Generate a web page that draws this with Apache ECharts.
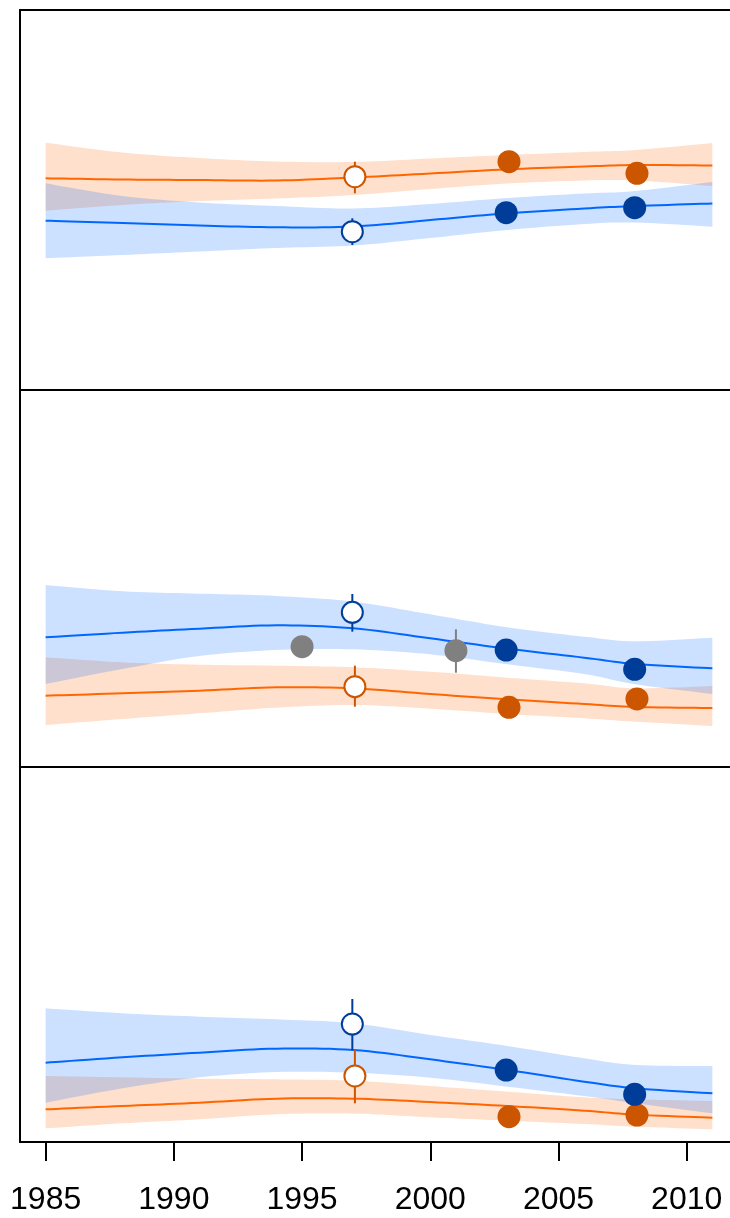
<!DOCTYPE html>
<html><head><meta charset="utf-8">
<script src="https://cdn.jsdelivr.net/npm/echarts@6/dist/echarts.min.js"></script>
<style>html,body{margin:0;padding:0;background:#fff}#c{width:730px;height:1218px}</style>
</head><body><div id="c"></div>
<script>
// ---- data (y in arbitrary units 0-100 per panel) ----
const years = [1985, 1988, 1991, 1994, 1997, 2000, 2003, 2006, 2008, 2011];
const tickYears = [1985, 1990, 1995, 2000, 2005, 2010];

// top panel
const topOrangeFit = [55.65, 55.34, 55.20, 55.07, 55.86, 56.92, 58.02, 58.76, 59.16, 59.03];
const topOrangeHi  = [65.03, 62.45, 61.00, 60.08, 59.95, 60.87, 61.79, 62.58, 63.11, 64.95];
const topOrangeLo  = [47.11, 48.62, 49.67, 50.33, 51.25, 52.83, 54.28, 55.07, 55.07, 53.62];
const topBlueFit   = [44.48, 43.87, 43.21, 42.74, 42.95, 44.66, 46.43, 47.69, 48.35, 49.01];
const topBlueHi    = [54.33, 50.99, 49.27, 48.35, 47.69, 48.88, 50.46, 51.65, 52.30, 54.68];
const topBlueLo    = [34.57, 35.44, 36.36, 37.29, 37.94, 39.92, 42.03, 43.61, 44.00, 42.90];

// middle panel
const midOrangeFit = [18.79, 19.41, 20.12, 21.00, 20.73, 19.23, 17.82, 16.58, 15.78, 15.52];
const midOrangeHi  = [28.96, 27.63, 27.01, 26.75, 26.31, 25.16, 23.56, 22.06, 20.73, 21.35];
const midOrangeLo  = [11.01, 12.60, 14.10, 15.61, 16.31, 15.34, 13.93, 12.78, 11.89, 10.74];
const midBlueFit   = [34.26, 35.50, 36.56, 37.45, 36.65, 34.00, 31.26, 28.87, 27.19, 26.04];
const midBlueHi    = [48.14, 46.46, 45.85, 45.23, 43.72, 40.36, 36.92, 34.44, 33.20, 34.17];
const midBlueLo    = [21.88, 25.86, 29.31, 30.90, 31.08, 29.75, 27.10, 24.54, 21.80, 19.23];

// bottom panel
const botOrangeFit = [8.70, 9.59, 10.47, 11.54, 11.54, 10.65, 9.59, 8.34, 7.28, 6.48];
const botOrangeHi  = [17.58, 17.22, 16.87, 16.69, 16.33, 14.91, 13.40, 11.90, 11.36, 10.92];
const botOrangeLo  = [3.64, 4.97, 6.04, 7.37, 7.55, 6.57, 5.68, 4.79, 4.08, 3.37];
const botBlueFit   = [21.13, 22.55, 23.79, 24.86, 24.50, 22.01, 19.17, 16.07, 14.29, 12.96];
const botBlueHi    = [35.60, 34.27, 33.38, 32.67, 31.60, 28.50, 25.57, 22.28, 20.51, 20.24];
const botBlueLo    = [10.47, 14.29, 17.22, 18.64, 18.46, 17.13, 14.74, 12.25, 10.30, 7.63];

// observed points
const orangeFilledYears = [2003.07, 2008.06];
const blueFilledYears   = [2002.96, 2007.97];
const orangeOpenYear = [1997.06];
const blueOpenYear   = [1996.96];
const greyYears      = [1995.0, 2001.0];

const topOrangeFilled = [60.03, 56.97];
const topBlueFilled   = [46.59, 47.90];
const topOrangeOpen   = [56.07]; const topOrangeOpenLo = [51.70]; const topOrangeOpenHi = [60.03];
const topBlueOpen     = [41.58]; const topBlueOpenLo   = [38.08]; const topBlueOpenHi   = [45.11];

const midOrangeFilled = [15.69, 17.91];
const midBlueFilled   = [30.90, 25.78];
const midOrangeOpen   = [21.18]; const midOrangeOpenLo = [15.87]; const midOrangeOpenHi = [26.75];
const midBlueOpen     = [40.89]; const midBlueOpenLo   = [35.77]; const midBlueOpenHi   = [45.76];
const midGrey         = [31.79, 30.73];
const midGreyLo       = [null, 24.89];
const midGreyHi       = [null, 36.39];

const botOrangeFilled = [6.75, 7.19];
const botBlueFilled   = [19.17, 12.69];
const botOrangeOpen   = [17.58]; const botOrangeOpenLo = [10.30]; const botOrangeOpenHi = [24.50];
const botBlueOpen     = [31.42]; const botBlueOpenLo   = [24.50]; const botBlueOpenHi   = [38.08];

// ---- styles ----
const ORANGE_LINE = '#FF6600', BLUE_LINE = '#0066FF';
const ORANGE_BAND = 'rgba(255,102,0,0.2)', BLUE_BAND = 'rgba(0,102,255,0.2)';
const ORANGE_DOT = '#CC5500', BLUE_DOT = '#003D99', GREY_DOT = '#808080';

// Catmull-Rom smoothing of projected (pixel) points, used only for drawing the curves
function catmull(pts, steps) {
  const out = [];
  for (let i = 0; i < pts.length - 1; i++) {
    const p0 = pts[Math.max(i - 1, 0)], p1 = pts[i], p2 = pts[i + 1], p3 = pts[Math.min(i + 2, pts.length - 1)];
    for (let s = 0; s < steps; s++) {
      const t = s / steps, t2 = t * t, t3 = t2 * t;
      const f = (a, b, c, d) => 0.5 * (2 * b + (-a + c) * t + (2 * a - 5 * b + 4 * c - d) * t2 + (-a + 3 * b - 3 * c + d) * t3);
      out.push([f(p0[0], p1[0], p2[0], p3[0]), f(p0[1], p1[1], p2[1], p3[1])]);
    }
  }
  out.push(pts[pts.length - 1]);
  return out;
}

function band(gi, lo, hi, color) {
  return {
    type: 'custom', xAxisIndex: gi, yAxisIndex: gi, z: 1, silent: true,
    data: [[years[0], lo[0]]],
    renderItem: function (params, api) {
      const up = years.map((y, k) => api.coord([y, hi[k]]));
      const dn = years.map((y, k) => api.coord([y, lo[k]]));
      const pts = catmull(up, 10).concat(catmull(dn, 10).reverse());
      return { type: 'polygon', shape: { points: pts }, style: { fill: color, stroke: null, lineWidth: 0 } };
    }
  };
}

function fit(gi, vals, color) {
  return {
    type: 'custom', xAxisIndex: gi, yAxisIndex: gi, z: 2, silent: true,
    data: [[years[0], vals[0]]],
    renderItem: function (params, api) {
      const pts = catmull(years.map((y, k) => api.coord([y, vals[k]])), 10);
      return { type: 'polyline', shape: { points: pts }, style: { stroke: color, lineWidth: 2, fill: null } };
    }
  };
}

function errs(gi, xs, los, his, color) {
  const data = [];
  xs.forEach((x, k) => { if (los[k] != null) data.push([x, los[k], his[k]]); });
  return {
    type: 'custom', xAxisIndex: gi, yAxisIndex: gi, z: 3, silent: true,
    encode: { x: 0, y: [1, 2] }, data: data,
    renderItem: function (params, api) {
      const a = api.coord([api.value(0), api.value(1)]);
      const b = api.coord([api.value(0), api.value(2)]);
      return { type: 'line', shape: { x1: a[0], y1: a[1], x2: b[0], y2: b[1] }, style: { stroke: color, lineWidth: 2 } };
    }
  };
}

function dots(gi, xs, ys, color, open) {
  return {
    type: 'scatter', xAxisIndex: gi, yAxisIndex: gi, z: 4, silent: true,
    symbol: 'circle', symbolSize: open ? 21 : 23,
    itemStyle: open ? { color: '#fff', borderColor: color, borderWidth: 2, opacity: 1 } : { color: color, opacity: 1 },
    data: xs.map((x, k) => [x, ys[k]])
  };
}

const panels = [
  { oF: topOrangeFit, oH: topOrangeHi, oL: topOrangeLo, bF: topBlueFit, bH: topBlueHi, bL: topBlueLo,
    oD: topOrangeFilled, bD: topBlueFilled, oO: [topOrangeOpen, topOrangeOpenLo, topOrangeOpenHi], bO: [topBlueOpen, topBlueOpenLo, topBlueOpenHi] },
  { oF: midOrangeFit, oH: midOrangeHi, oL: midOrangeLo, bF: midBlueFit, bH: midBlueHi, bL: midBlueLo,
    oD: midOrangeFilled, bD: midBlueFilled, oO: [midOrangeOpen, midOrangeOpenLo, midOrangeOpenHi], bO: [midBlueOpen, midBlueOpenLo, midBlueOpenHi],
    grey: [midGrey, midGreyLo, midGreyHi] },
  { oF: botOrangeFit, oH: botOrangeHi, oL: botOrangeLo, bF: botBlueFit, bH: botBlueHi, bL: botBlueLo,
    oD: botOrangeFilled, bD: botBlueFilled, oO: [botOrangeOpen, botOrangeOpenLo, botOrangeOpenHi], bO: [botBlueOpen, botBlueOpenLo, botBlueOpenHi] }
];

const gridPos = [[10, 379.5], [389.5, 377], [766.5, 375.5]];
const grids = gridPos.map(g => ({
  left: 20, width: 718, top: g[0], height: g[1], outerBoundsMode: 'none', containLabel: false, show: false
}));

const frameLine = { show: true, onZero: false, lineStyle: { color: '#000', width: 2 } };
const xAxes = [0, 1, 2].map(i => ({
  type: 'value', gridIndex: i, position: 'bottom', min: 1984, max: 2012,
  axisLine: frameLine, splitLine: { show: false },
  axisTick: { show: i === 2, customValues: tickYears, length: 19, lineStyle: { color: '#000', width: 2 } },
  axisLabel: { show: i === 2, customValues: tickYears, margin: 42, fontSize: 32, color: '#000',
    fontFamily: 'Liberation Sans, Arial, sans-serif', formatter: v => String(v) }
}));
// top edge of the first panel
xAxes.push({ type: 'value', gridIndex: 0, position: 'top', min: 1984, max: 2012,
  axisLine: frameLine, axisTick: { show: false }, axisLabel: { show: false }, splitLine: { show: false } });
const yAxes = [0, 1, 2].map(i => ({
  type: 'value', gridIndex: i, position: 'left', min: 0, max: 100,
  axisLine: frameLine, axisTick: { show: false }, axisLabel: { show: false }, splitLine: { show: false }
}));

const series = [];
panels.forEach((p, i) => {
  series.push(band(i, p.oL, p.oH, ORANGE_BAND));
  series.push(band(i, p.bL, p.bH, BLUE_BAND));
  series.push(fit(i, p.oF, ORANGE_LINE));
  series.push(fit(i, p.bF, BLUE_LINE));
  series.push(errs(i, orangeOpenYear, p.oO[1], p.oO[2], ORANGE_DOT));
  series.push(errs(i, blueOpenYear, p.bO[1], p.bO[2], BLUE_DOT));
  if (p.grey) series.push(errs(i, greyYears, p.grey[1], p.grey[2], GREY_DOT));
  series.push(dots(i, orangeFilledYears, p.oD, ORANGE_DOT, false));
  series.push(dots(i, blueFilledYears, p.bD, BLUE_DOT, false));
  if (p.grey) series.push(dots(i, greyYears, p.grey[0], GREY_DOT, false));
  series.push(dots(i, orangeOpenYear, p.oO[0], ORANGE_DOT, true));
  series.push(dots(i, blueOpenYear, p.bO[0], BLUE_DOT, true));
});

const chart = echarts.init(document.getElementById('c'), null, { renderer: 'canvas' });
chart.setOption({
  animation: false,
  backgroundColor: '#fff',
  grid: grids, xAxis: xAxes, yAxis: yAxes, series: series
});
</script></body></html>
